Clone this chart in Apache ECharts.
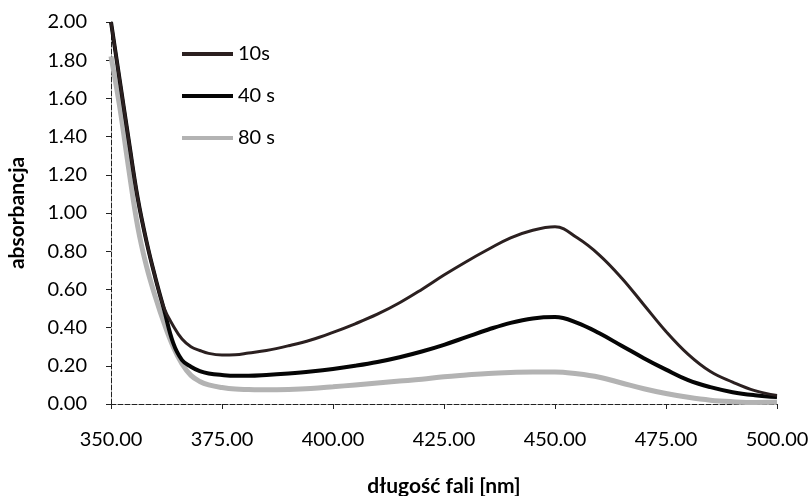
<!DOCTYPE html>
<html>
<head>
<meta charset="utf-8">
<script src="https://cdn.jsdelivr.net/npm/echarts@6/dist/echarts.min.js"></script>
<style>
  html, body { margin: 0; padding: 0; background: #fff; }
  #chart { width: 811px; height: 496px; }
</style>
</head>
<body>
<div id="chart"></div>
<script>
// Wavelengths [nm] at which absorbance was sampled
const wavelengths = [350, 352, 354, 356, 358, 360, 362, 364, 366, 368, 370, 372, 375, 378, 381, 385, 390, 395, 400, 405, 410, 415, 420, 425, 430, 435, 440, 445, 450, 455, 460, 465, 470, 475, 480, 485, 490, 495, 500];

// Absorbance spectra after 10 s, 40 s and 80 s
const abs10s = [2.00, 1.69, 1.38, 1.08, 0.85, 0.66, 0.50, 0.41, 0.34, 0.30, 0.28, 0.265, 0.257, 0.258, 0.267, 0.28, 0.305, 0.335, 0.375, 0.42, 0.47, 0.53, 0.60, 0.675, 0.745, 0.81, 0.87, 0.91, 0.928, 0.87, 0.78, 0.66, 0.52, 0.38, 0.26, 0.17, 0.115, 0.07, 0.045];
const abs40s = [2.00, 1.69, 1.38, 1.08, 0.85, 0.66, 0.49, 0.32, 0.23, 0.195, 0.172, 0.16, 0.152, 0.148, 0.148, 0.152, 0.16, 0.17, 0.183, 0.20, 0.22, 0.245, 0.275, 0.31, 0.35, 0.39, 0.425, 0.448, 0.455, 0.425, 0.37, 0.305, 0.24, 0.18, 0.125, 0.088, 0.062, 0.046, 0.036];
const abs80s = [1.82, 1.55, 1.23, 0.93, 0.72, 0.56, 0.42, 0.30, 0.21, 0.15, 0.118, 0.10, 0.086, 0.078, 0.076, 0.074, 0.076, 0.081, 0.09, 0.10, 0.11, 0.12, 0.13, 0.143, 0.152, 0.16, 0.165, 0.168, 0.168, 0.158, 0.14, 0.11, 0.08, 0.055, 0.035, 0.02, 0.012, 0.008, 0.01];

const seriesNames = ['10s', '40 s', '80 s'];

const pairs = (ys) => wavelengths.map((x, i) => [x, ys[i]]);
const font = 'Lato, "Open Sans", sans-serif';

const axisLine = { show: true, lineStyle: { color: '#222', width: 1, type: [5, 2] } };
const axisTick = { show: true, inside: false, length: 5, lineStyle: { color: '#222' } };

const chart = echarts.init(document.getElementById('chart'));
chart.setOption({
  animation: false,
  backgroundColor: '#fff',
  textStyle: { fontFamily: font },
  grid: { left: 111, right: 34, top: 22, bottom: 92, outerBoundsMode: 'none' },
  legend: {
    data: seriesNames.map(n => ({ name: n, icon: 'rect' })),
    orient: 'vertical',
    left: 177,
    top: 39,
    itemWidth: 51,
    itemHeight: 4,
    itemGap: 22,
    textStyle: { fontFamily: font, fontSize: 20, color: '#000' }
  },
  xAxis: {
    type: 'value',
    min: 350,
    max: 500,
    interval: 25,
    name: 'długość fali [nm]',
    nameLocation: 'middle',
    nameGap: 72,
    nameTextStyle: { fontFamily: font, fontSize: 21, fontWeight: 'bold', color: '#000' },
    axisLine: axisLine,
    axisTick: axisTick,
    axisLabel: { fontSize: 20, color: '#000', margin: 26, formatter: v => v.toFixed(2) },
    splitLine: { show: false }
  },
  yAxis: {
    type: 'value',
    min: 0,
    max: 2,
    interval: 0.2,
    name: 'absorbancja',
    nameLocation: 'middle',
    nameGap: 83,
    nameRotate: 90,
    nameTextStyle: { fontFamily: font, fontSize: 21, fontWeight: 'bold', color: '#000' },
    axisLine: axisLine,
    axisTick: axisTick,
    axisLabel: { fontSize: 20, color: '#000', margin: 24, formatter: v => v.toFixed(2) },
    splitLine: { show: false }
  },
  series: [
    {
      name: '80 s', type: 'line', data: pairs(abs80s), symbol: 'none', z: 1,
      smooth: 0.4,
      lineStyle: { color: '#b3b3b3', width: 5 }, itemStyle: { color: '#b3b3b3' }
    },
    {
      name: '40 s', type: 'line', data: pairs(abs40s), symbol: 'none', z: 2,
      smooth: 0.4,
      lineStyle: { color: '#050505', width: 4 }, itemStyle: { color: '#050505' }
    },
    {
      name: '10s', type: 'line', data: pairs(abs10s), symbol: 'none', z: 3,
      smooth: 0.4,
      lineStyle: { color: '#2b2020', width: 3 }, itemStyle: { color: '#2b2020' }
    }
  ]
});
</script>
</body>
</html>
